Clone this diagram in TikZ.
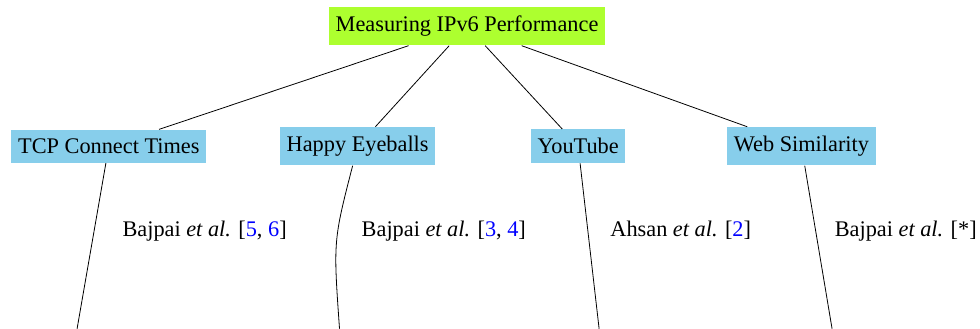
\documentclass[tikz,border=0pt]{standalone}
\usepackage{fontspec}
\setmainfont{Liberation Serif}
\definecolor{rootgreen}{HTML}{ADFF2F}
\definecolor{leafblue}{HTML}{87CEEB}
\definecolor{citeblue}{HTML}{0000FF}
\newcommand{\citeref}[1]{\textcolor{citeblue}{#1}}

\begin{document}
\begin{tikzpicture}[
  font=\fontsize{11.2}{13.4}\selectfont,
  topic/.style={fill=rootgreen,inner ysep=4.5pt},
  method/.style={fill=leafblue,inner ysep=4.5pt},
  study/.style={anchor=base}
]
  \useasboundingbox (0,0) rectangle (17.29,5.80);

  % root and the four approaches
  \node[topic] (ipv6) at (8.24,5.34) {Measuring IPv6 Performance};
  \node[method] (tcp) at (1.92,3.22) {TCP Connect Times};
  \node[method] (he) at (6.31,3.22) {Happy Eyeballs};
  \node[method] (yt) at (10.20,3.22) {YouTube};
  \node[method] (web) at (14.14,3.22) {Web Similarity};

  % where the branches leave the page
  \coordinate (tcp-end) at (1.36,0);
  \coordinate (he-end) at (5.99,0);
  \coordinate (yt-end) at (10.57,0);
  \coordinate (web-end) at (14.68,0);

  \draw (ipv6) -- (tcp);
  \draw (ipv6) -- (he);
  \draw (ipv6) -- (yt);
  \draw (ipv6) -- (web);

  \draw (tcp) -- (tcp-end);
  \draw (he) .. controls (5.88,1.55) .. (he-end);
  \draw (yt) -- (yt-end);
  \draw (web) -- (web-end);

  % studies
  \node[study] (tcp-ref) at (3.61,1.62) {Bajpai \textit{et al.} [\citeref{5}, \citeref{6}]};
  \node[study] (he-ref) at (7.83,1.62) {Bajpai \textit{et al.} [\citeref{3}, \citeref{4}]};
  \node[study] (yt-ref) at (12.01,1.62) {Ahsan \textit{et al.} [\citeref{2}]};
  \node[study] (web-ref) at (15.98,1.62) {Bajpai \textit{et al.} [*]};
\end{tikzpicture}
\end{document}
